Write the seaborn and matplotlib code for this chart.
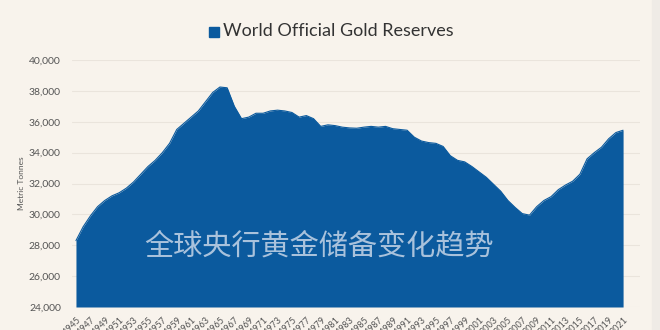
import matplotlib
matplotlib.use("Agg")
import matplotlib.pyplot as plt
import matplotlib.patches as mpatches
import seaborn as sns
import pandas as pd

years = list(range(1945, 2022))
reserves = [
    28300, 29200, 29900, 30500, 30900, 31200, 31400, 31700, 32100, 32600,
    33100, 33500, 34000, 34600, 35500, 35900, 36300, 36700, 37300, 37900,
    38250, 38200, 37000, 36200, 36300, 36550, 36550, 36700, 36750, 36700,
    36600, 36300, 36400, 36200, 35700, 35800, 35750, 35650, 35600, 35580,
    35650, 35700, 35650, 35700, 35550, 35500, 35450, 35000, 34750, 34650,
    34600, 34400, 33800, 33500, 33400, 33100, 32750, 32400, 31950, 31500,
    30900, 30450, 30050, 29950, 30500, 30900, 31150, 31600, 31900, 32150,
    32600, 33600, 34000, 34350, 34900, 35300, 35450,
]
y_ticks = list(range(24000, 40001, 2000))
x_ticks = list(range(1945, 2022, 2))
series_name = "World Official Gold Reserves"
y_label = "Metric Tonnes"
watermark = "全球央行黄金储备变化趋势"

df = pd.DataFrame({"year": years, "reserves": reserves})

bg = "#F8F3EC"
blue = "#0B5A9E"

sns.set_theme(style="white")
plt.rcParams["font.family"] = ["Lato", "DejaVu Sans"]

fig = plt.figure(figsize=(6.6, 3.3), dpi=100, facecolor=bg)
ax = fig.add_axes([72 / 660, 1 - 307 / 330, (640 - 72) / 660, (307 - 60) / 330])
ax.set_facecolor(bg)

# grid
for v in y_ticks:
    ax.axhline(v, color="#EAE4DC", lw=0.8, zorder=0)

sns.lineplot(data=df, x="year", y="reserves", ax=ax, color=blue, lw=0.8, zorder=2)
ax.fill_between(df["year"], df["reserves"], 24000, color=blue, lw=0, zorder=2)

ax.set_xlim(1944.45, 2023.35)
ax.set_ylim(24000, 40000)
ax.set_yticks(y_ticks)
ax.set_yticklabels([f"{v:,}" for v in y_ticks], fontsize=7.5, color="#555555")
ax.set_xticks(x_ticks)
ax.set_xticklabels([str(x) for x in x_ticks], fontsize=6.5, color="#555555",
                   rotation=45, ha="right", rotation_mode="anchor")
ax.tick_params(axis="y", length=0, pad=8)
ax.tick_params(axis="x", length=0, pad=6)
for s in ax.spines.values():
    s.set_visible(False)
ax.set_xlabel("")
ax.set_ylabel(y_label, fontsize=6, color="#555555", labelpad=3)

# legend-like title
fig.patches.append(mpatches.Rectangle((209 / 660, 1 - 37 / 330), 10 / 660, 10 / 330,
                                      transform=fig.transFigure, color=blue))
fig.text(223 / 660, 1 - 31 / 330, series_name, fontsize=13, color="#333333",
         va="center", ha="left")

# watermark
ax.text(0.128, 0.245, watermark, transform=ax.transAxes, fontsize=21,
        family=["Noto Sans CJK SC", "DejaVu Sans"], color="#A9C2DC",
        ha="left", va="center", zorder=3)

# right edge band
fig.patches.append(mpatches.Rectangle((652 / 660, 0), 8 / 660, 1,
                                      transform=fig.transFigure, color="#EFEBE6"))

fig.savefig("out.png", dpi=100, facecolor=bg)
